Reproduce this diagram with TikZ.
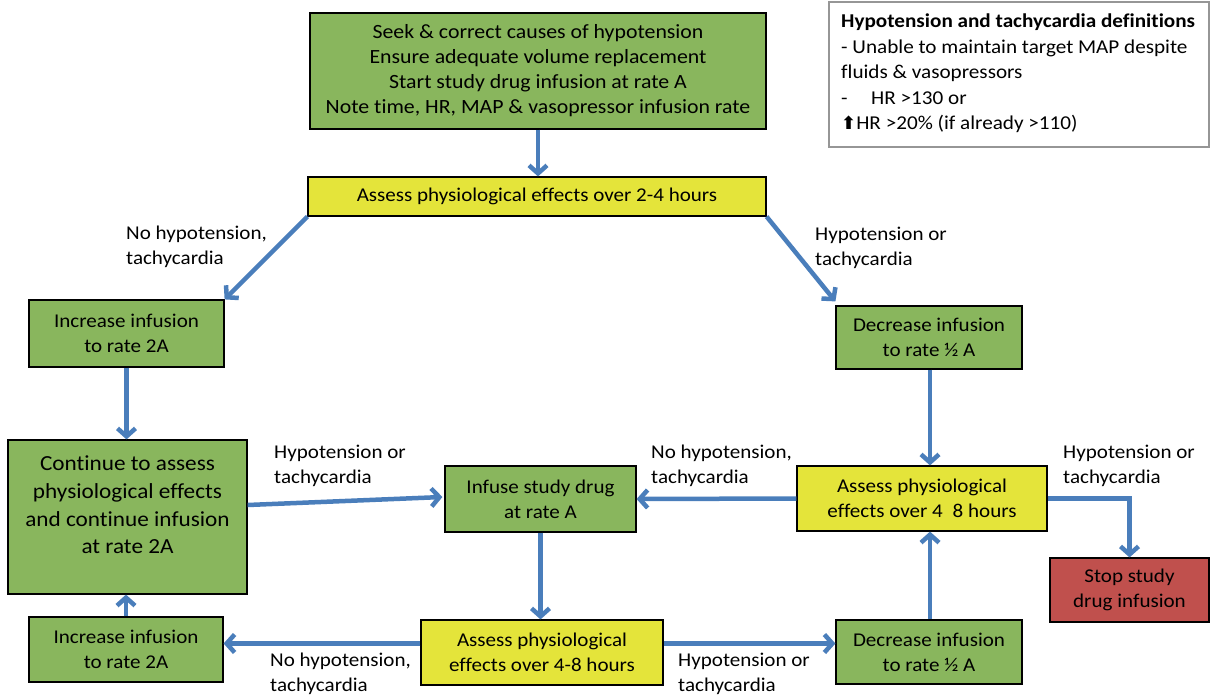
\documentclass[tikz,border=0pt]{standalone}
\usepackage{fontspec}
\setmainfont{Carlito}[FakeStretch=1.08,Ligatures=NoCommon]
\newfontfamily\symfont{DejaVu Sans}
\usetikzlibrary{arrows.meta,calc}
\definecolor{boxgreen}{RGB}{137,182,93}
\definecolor{boxyellow}{RGB}{228,228,58}
\definecolor{boxred}{RGB}{192,80,77}
\definecolor{arrowblue}{RGB}{74,126,187}
\definecolor{defgray}{RGB}{150,150,150}
\begin{document}
\begin{tikzpicture}[x=1pt,y=-1pt,
  base/.style={draw=black,line width=1.2pt,inner sep=0pt,align=center,font=\fontsize{19.5}{25}\selectfont},
  gbox/.style={base,fill=boxgreen},
  ybox/.style={base,fill=boxyellow},
  rbox/.style={base,fill=boxred},
  lbl/.style={inner sep=0pt,align=left,anchor=west,font=\fontsize{19.5}{25.5}\selectfont},
  conn/.style={draw=arrowblue,line width=4.5pt,-{Straight Barb[length=8pt,width=18pt]}}]
\useasboundingbox[fill=white] (0,0) rectangle (1211,697);

\node[gbox,minimum width=456pt,minimum height=116pt,font=\fontsize{20.2}{25}\selectfont] (top) at (538,71)
  {Seek \& correct causes of hypotension\\Ensure adequate volume replacement\\Start study drug infusion at rate A\\Note time, HR, MAP \& vasopressor infusion rate};
\node[ybox,minimum width=458pt,minimum height=39pt] (a24) at (537,196.5)
  {Assess physiological effects over 2-4 hours};
\node[draw=defgray,line width=1.5pt,fill=white,inner sep=0pt,minimum width=380pt,minimum height=145pt] (def) at (1019,74.5) {};
\node[inner sep=0pt,align=left,anchor=north west,font=\fontsize{19.6}{25.5}\selectfont] (deftext) at (841,14)
  {\textbf{Hypotension and tachycardia definitions}\\- Unable to maintain target MAP despite\\fluids \& vasopressors\\-\hspace{1.2em}HR >130 or\\{\symfont\fontsize{18}{25.5}\selectfont\textbf{⬆}}HR >20\% (if already >110)};

\node[gbox,minimum width=195pt,minimum height=67pt] (inc1) at (126.5,333.5) {Increase infusion\\to rate 2A};
\node[gbox,minimum width=186pt,minimum height=63pt] (dec1) at (929,337.5) {Decrease infusion\\to rate ½ A};
\node[gbox,minimum width=239pt,minimum height=154pt] (cont) at (127.5,517) {};
\node[inner sep=0pt,align=center,font=\fontsize{21.5}{27.7}\selectfont] (conttext) at (127.5,505)
  {Continue to assess\\physiological effects\\and continue infusion\\at rate 2A};
\node[gbox,minimum width=191pt,minimum height=66pt] (inf) at (540.5,499) {Infuse study drug\\at rate A};
\node[ybox,minimum width=250pt,minimum height=65pt] (a48r) at (922,498.5) {Assess physiological\\effects over 4\hspace{0.5em}8 hours};
\node[rbox,minimum width=159pt,minimum height=64pt] (stop) at (1129.5,590) {Stop study\\drug infusion};
\node[gbox,minimum width=194pt,minimum height=65pt] (inc2) at (126,649.5) {Increase infusion\\to rate 2A};
\node[ybox,minimum width=242pt,minimum height=65pt] (a48b) at (542,652.5) {Assess physiological\\effects over 4-8 hours};
\node[gbox,minimum width=186pt,minimum height=64pt] (dec2) at (929,652) {Decrease infusion\\to rate ½ A};

\node[lbl] (l1) at (126,247) {No hypotension,\\tachycardia};
\node[lbl] (l2) at (815,248) {Hypotension or\\tachycardia};
\node[lbl] (l3) at (274,466) {Hypotension or\\tachycardia};
\node[lbl] (l4) at (651,466) {No hypotension,\\tachycardia};
\node[lbl] (l5) at (1063,466) {Hypotension or\\tachycardia};
\node[lbl] (l6) at (270,674) {No hypotension,\\tachycardia};
\node[lbl] (l7) at (678,674) {Hypotension or\\tachycardia};

\coordinate (bw) at ($(a48b.west)+(0,-9)$);
\coordinate (be) at ($(a48b.east)+(0,-9)$);
\coordinate (ce) at ($(cont.east)+(0,-12)$);
\coordinate (iw) at ($(inf.west)+(-2,-2)$);
\coordinate (dn) at ($(dec1.north west)+(0,-4)$);

\draw[conn] (top.south) -- (top.south |- a24.north);
\draw[conn] (a24.south west) -- (inc1.north east);
\draw[conn] (a24.south east) -- (dn);
\draw[conn] (inc1.south) -- (inc1.south |- cont.north);
\draw[conn] (ce) -- (iw);
\draw[conn] (a48r.west) -- (inf.east);
\draw[conn] ([xshift=1pt]dec1.south) -- ([xshift=1pt]dec1.south |- a48r.north);
\draw[conn] (a48r.east) -| (stop.north);
\draw[conn] (inf.south) -- (inf.south |- a48b.north);
\draw[conn] (bw) -- (bw -| inc2.east);
\draw[conn] (be) -- (be -| dec2.west);
\draw[conn] ([xshift=1pt]dec2.north) -- ([xshift=1pt]dec2.north |- a48r.south);
\draw[conn] (inc2.north) -- (inc2.north |- cont.south);
\end{tikzpicture}
\end{document}
